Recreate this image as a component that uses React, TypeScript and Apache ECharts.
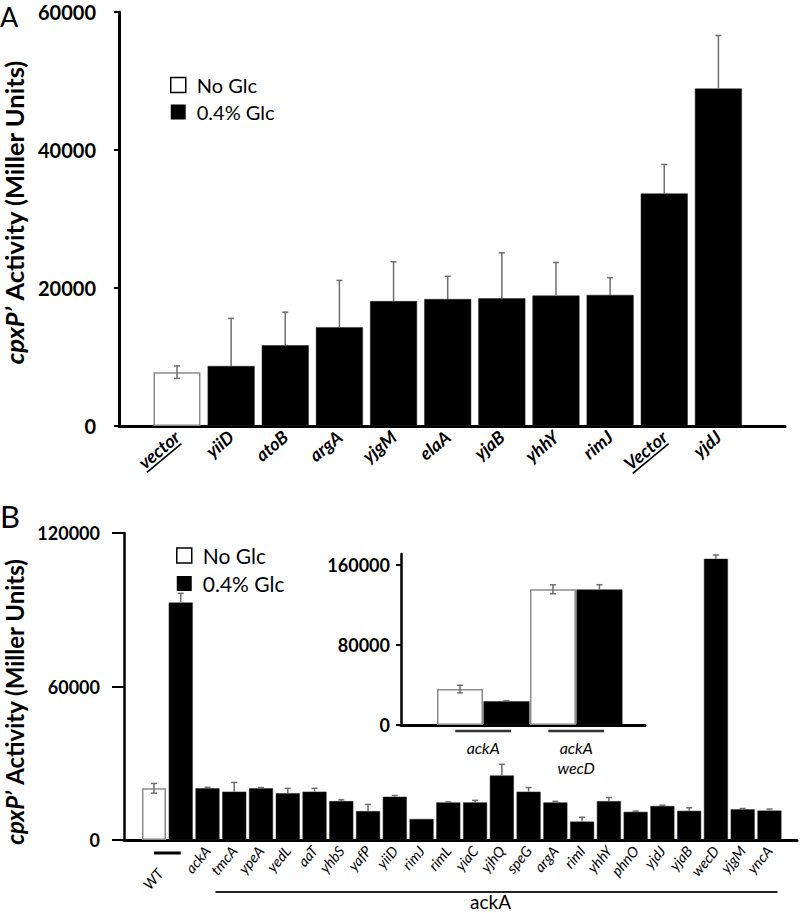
import React, { useEffect, useRef } from 'react';
import * as echarts from 'echarts';

// ---------- Panel A data ----------
const categoriesA = ['vector', 'yiiD', 'atoB', 'argA', 'yjgM', 'elaA', 'yjaB', 'yhhY', 'rimJ', 'Vector', 'yjdJ'];
const noGlcA: (number | null)[] = [7800, null, null, null, null, null, null, null, null, null, null];
const glcA: (number | null)[] = [null, 8700, 11700, 14300, 18100, 18400, 18500, 18900, 19000, 33700, 48900];
const errA = [900, 6900, 4800, 6800, 5700, 3300, 6600, 4800, 2500, 4200, 7700];
const underlinedA = ['vector', 'Vector'];

// ---------- Panel B data ----------
const categoriesB = ['WT', 'WT', 'ackA', 'tmcA', 'ypeA', 'yedL', 'aaT', 'yhbS', 'yafP', 'yiiD', 'rimJ', 'rimL', 'yiaC', 'yjhQ', 'speG', 'argA', 'rimI', 'yhhY', 'phnO', 'yjdJ', 'yjaB', 'wecD', 'yjgM', 'yncA'];
const noGlcB: (number | null)[] = [20200, null, null, null, null, null, null, null, null, null, null, null, null, null, null, null, null, null, null, null, null, null, null, null];
const glcB: (number | null)[] = [null, 92800, 20200, 18900, 20200, 18300, 18900, 15200, 11300, 16900, 8200, 14700, 14700, 25200, 18900, 14700, 7200, 15200, 11000, 13300, 11400, 109900, 12000, 11500];
const errB = [1900, 3600, 400, 3600, 300, 1900, 1300, 500, 2600, 500, 0, 200, 800, 4400, 1600, 400, 1700, 1400, 300, 300, 1200, 1500, 300, 600];
const bracketLabelB = 'ackA';

// ---------- Inset data ----------
const insetGroups = ['ackA', 'ackA\nwecD'];
const insetNoGlc = [36000, 135700];
const insetNoGlcErr = [3800, 4500];
const insetGlc = [23700, 135500];
const insetGlcErr = [600, 4800];

const legendNames = ['No Glc', '0.4% Glc'];
const yTitle = '{i|cpxP\u2019} Activity (Miller Units)';

const FONT = 'Lato, "Open Sans", sans-serif';

function pairs(vals: (number | null)[]) {
  const out: number[][] = [];
  vals.forEach((v, i) => { if (v != null) out.push([i, v]); });
  return out;
}

function errRender(params: any, api: any) {
  const x = api.value(0);
  const m = api.value(1);
  const e = api.value(2);
  const full = api.value(3);
  if (!e) return null;
  const top = api.coord([x, m + e]);
  const bot = api.coord([x, full ? m - e : m]);
  const cap = 3;
  const st = { stroke: '#6e6e6e', lineWidth: 1.5 };
  const children: any[] = [
    { type: 'line', shape: { x1: top[0], y1: top[1], x2: bot[0], y2: bot[1] }, style: st },
    { type: 'line', shape: { x1: top[0] - cap, y1: top[1], x2: top[0] + cap, y2: top[1] }, style: st },
  ];
  if (full) children.push({ type: 'line', shape: { x1: bot[0] - cap, y1: bot[1], x2: bot[0] + cap, y2: bot[1] }, style: st });
  return { type: 'group', children };
}

const plain = (v: number) => String(v);

export default function App() {
  const ref = useRef<HTMLDivElement>(null);
  useEffect(() => {
    if (!ref.current) return;
    const chart = echarts.init(ref.current, undefined, { renderer: 'svg' });

    const whiteStyle = { color: '#fff', borderColor: '#8a8a8a', borderWidth: 1.5 };
    const blackStyle = { color: '#000', borderColor: '#222', borderWidth: 0.5 };

    const yAxisBase = (extra: any) => ({
      type: 'value',
      splitLine: { show: false },
      axisLine: { show: true, onZero: false, lineStyle: { color: '#000', width: 3 } },
      axisTick: { show: true, lineStyle: { color: '#000', width: 2 } },
      ...extra,
    });

    const option: any = {
      animation: false,
      backgroundColor: '#fff',
      grid: [
        { left: 119, top: 12, width: 666, height: 414, outerBoundsMode: 'none', containLabel: false },
        { left: 124, top: 533, width: 673, height: 307, outerBoundsMode: 'none', containLabel: false },
        { left: 401, top: 554, width: 244, height: 171, outerBoundsMode: 'none', containLabel: false },
      ],
      xAxis: [
        {
          gridIndex: 0, type: 'value', min: -1.071, max: 11.23,
          splitLine: { show: false },
          axisLine: { onZero: false, lineStyle: { color: '#000', width: 3 } },
          axisTick: { show: false },
          axisLabel: {
            customValues: categoriesA.map((_, i) => i),
            formatter: (v: number) => categoriesA[Math.round(v)] ?? '',
            rotate: 40, fontFamily: FONT, fontStyle: 'italic', fontWeight: 'bold', fontSize: 18, color: '#000', margin: 8,
          },
        },
        {
          gridIndex: 1, type: 'value', min: -1.12, max: 24.03,
          splitLine: { show: false },
          axisLine: { onZero: false, lineStyle: { color: '#000', width: 3 } },
          axisTick: { show: false },
          axisLabel: {
            customValues: [0.5].concat(categoriesB.map((_, i) => i).slice(2)),
            formatter: (v: number) => (v === 0.5 ? '{wt|' + categoriesB[0] + '}' : categoriesB[Math.round(v)] ?? ''),
            rotate: 50, fontFamily: FONT, fontStyle: 'italic', fontSize: 14.5, color: '#000', margin: 8,
            rich: { wt: { fontFamily: FONT, fontStyle: 'italic', fontSize: 14.5, color: '#000', padding: [18, 22, 0, 0] } },
          },
        },
        {
          gridIndex: 2, type: 'value', min: -1.269, max: 3.98,
          splitLine: { show: false },
          axisLine: { onZero: false, lineStyle: { color: '#000', width: 3 } },
          axisTick: { show: false },
          axisLabel: {
            customValues: insetGroups.map((_, i) => i * 2 + 0.5),
            formatter: (v: number) => insetGroups[Math.round((v - 0.5) / 2)] ?? '',
            fontFamily: FONT, fontStyle: 'italic', fontSize: 16, color: '#000', margin: 12, lineHeight: 20,
          },
        },
      ],
      yAxis: [
        yAxisBase({
          gridIndex: 0, min: 0, max: 60000, interval: 20000,
          axisTick: { show: true, length: 5, lineStyle: { color: '#000', width: 2 } },
          axisLabel: { fontFamily: FONT, fontWeight: 'bold', fontSize: 20, color: '#000', margin: 23, formatter: plain },
          name: yTitle, nameLocation: 'middle', nameGap: 87,
          nameTextStyle: {
            fontFamily: FONT, fontWeight: 'bold', fontSize: 25.5, color: '#000', padding: [0, 0, 0, 14],
            rich: { i: { fontFamily: FONT, fontWeight: 'bold', fontStyle: 'italic', fontSize: 25.5, color: '#000' } },
          },
        }),
        yAxisBase({
          gridIndex: 1, min: 0, max: 120000, interval: 60000,
          axisLine: { show: true, onZero: false, lineStyle: { color: '#000', width: 2.5 } },
          axisTick: { show: true, length: 12, lineStyle: { color: '#000', width: 2 } },
          axisLabel: { fontFamily: FONT, fontWeight: 'bold', fontSize: 18, color: '#000', margin: 24, formatter: plain },
          name: yTitle, nameLocation: 'middle', nameGap: 96,
          nameTextStyle: {
            fontFamily: FONT, fontWeight: 'bold', fontSize: 24, color: '#000', padding: [0, 30, 0, 0],
            rich: { i: { fontFamily: FONT, fontWeight: 'bold', fontStyle: 'italic', fontSize: 24, color: '#000' } },
          },
        }),
        yAxisBase({
          gridIndex: 2, min: 0, max: 171000, interval: 80000,
          axisLine: { show: true, onZero: false, lineStyle: { color: '#000', width: 2.5 } },
          axisTick: { show: true, length: 5, lineStyle: { color: '#000', width: 2 } },
          axisLabel: { fontFamily: FONT, fontWeight: 'bold', fontSize: 18, color: '#000', margin: 11, formatter: plain },
        }),
      ],
      legend: [
        {
          left: 165, top: 70, orient: 'vertical', itemWidth: 15, itemHeight: 15, itemGap: 7,
          selectedMode: false, icon: 'rect',
          textStyle: { fontFamily: FONT, fontSize: 20, color: '#000', padding: [0, 0, 0, 6] },
          data: [
            { name: legendNames[0], itemStyle: { color: '#fff', borderColor: '#000', borderWidth: 1.5 } },
            { name: legendNames[1], itemStyle: { color: '#000', borderColor: '#000', borderWidth: 0 } },
          ],
        },
        {
          left: 171, top: 540, orient: 'vertical', itemWidth: 15, itemHeight: 15, itemGap: 7,
          selectedMode: false, icon: 'rect',
          textStyle: { fontFamily: FONT, fontSize: 21, color: '#000', padding: [0, 0, 0, 6] },
          data: [
            { name: legendNames[0], itemStyle: { color: '#fff', borderColor: '#000', borderWidth: 1.5 } },
            { name: legendNames[1], itemStyle: { color: '#000', borderColor: '#000', borderWidth: 0 } },
          ],
        },
      ],
      series: [
        // Panel A
        { name: legendNames[0], type: 'bar', xAxisIndex: 0, yAxisIndex: 0, barWidth: 47, barGap: '-100%', data: pairs(noGlcA), itemStyle: whiteStyle },
        { name: legendNames[1], type: 'bar', xAxisIndex: 0, yAxisIndex: 0, barWidth: 47, barGap: '-100%', data: pairs(glcA), itemStyle: blackStyle },
        {
          type: 'custom', xAxisIndex: 0, yAxisIndex: 0, z: 10, renderItem: errRender,
          data: categoriesA.map((_, i) => [i, (noGlcA[i] ?? glcA[i]) as number, errA[i], noGlcA[i] != null ? 1 : 0]),
        },
        // Panel B
        { name: legendNames[0], type: 'bar', xAxisIndex: 1, yAxisIndex: 1, barWidth: 24, barGap: '-100%', data: pairs(noGlcB), itemStyle: whiteStyle },
        { name: legendNames[1], type: 'bar', xAxisIndex: 1, yAxisIndex: 1, barWidth: 24, barGap: '-100%', data: pairs(glcB), itemStyle: blackStyle },
        {
          type: 'custom', xAxisIndex: 1, yAxisIndex: 1, z: 10, renderItem: errRender,
          data: categoriesB.map((_, i) => [i, (noGlcB[i] ?? glcB[i]) as number, errB[i], noGlcB[i] != null ? 1 : 0]),
        },
        // Inset
        { name: legendNames[0], type: 'bar', xAxisIndex: 2, yAxisIndex: 2, barWidth: 46, barGap: '-100%', data: insetNoGlc.map((v, i) => [i * 2, v]), itemStyle: whiteStyle },
        { name: legendNames[1], type: 'bar', xAxisIndex: 2, yAxisIndex: 2, barWidth: 46, barGap: '-100%', data: insetGlc.map((v, i) => [i * 2 + 1, v]), itemStyle: blackStyle },
        {
          type: 'custom', xAxisIndex: 2, yAxisIndex: 2, z: 10, renderItem: errRender,
          data: insetGroups.flatMap((_, i) => [
            [i * 2, insetNoGlc[i], insetNoGlcErr[i], 1],
            [i * 2 + 1, insetGlc[i], insetGlcErr[i], 0],
          ]),
        },
      ],
    };
    chart.setOption(option);

    // decorations computed from the axes
    const px = (g: number, x: number, y: number) => chart.convertToPixel({ gridIndex: g }, [x, y]) as number[];
    const canvas = document.createElement('canvas');
    const ctx = canvas.getContext('2d')!;
    const graphics: any[] = [
      { type: 'text', left: 0, top: 3, style: { text: 'A', fontFamily: FONT, fontSize: 27, fill: '#000' } },
      { type: 'text', left: 0, top: 500, style: { text: 'B', fontFamily: FONT, fontSize: 31, fill: '#000' } },
    ];
    // underline of vector labels in panel A
    const rot = (40 * Math.PI) / 180;
    const u = [Math.cos(rot), -Math.sin(rot)];
    const vv = [Math.sin(rot), Math.cos(rot)];
    ctx.font = 'italic bold 18px Lato';
    categoriesA.forEach((c, i) => {
      if (!underlinedA.includes(c)) return;
      const p = px(0, i, 0);
      const ax = p[0];
      const ay = p[1] + 8;
      const w = ctx.measureText(c).width;
      const d = 10;
      graphics.push({
        type: 'line',
        shape: { x1: ax - w * u[0] + d * vv[0], y1: ay - w * u[1] + d * vv[1], x2: ax + d * vv[0] - 2, y2: ay + d * vv[1] + 2 },
        style: { stroke: '#000', lineWidth: 1.6 },
      });
    });
    // WT underline
    const w0 = px(1, 0, 0);
    const w1 = px(1, 1, 0);
    graphics.push({ type: 'line', shape: { x1: w0[0], y1: w0[1] + 13, x2: w1[0], y2: w1[1] + 13 }, style: { stroke: '#000', lineWidth: 3 } });
    // ackA bracket line + label
    const b0 = px(1, 2.3, 0);
    const b1 = px(1, 23.3, 0);
    graphics.push({ type: 'line', shape: { x1: b0[0], y1: b0[1] + 52, x2: b1[0], y2: b1[1] + 52 }, style: { stroke: '#222', lineWidth: 2 } });
    graphics.push({
      type: 'text', x: (b0[0] + b1[0]) / 2 - 6, y: b0[1] + 61,
      style: { text: bracketLabelB, fontFamily: FONT, fontSize: 19, fill: '#000', align: 'center', verticalAlign: 'middle' },
    });
    // inset underlines
    insetGroups.forEach((_, i) => {
      const a = px(2, i * 2 - 0.1, 0);
      const b = px(2, i * 2 + 1.1, 0);
      graphics.push({ type: 'line', shape: { x1: a[0], y1: a[1] + 6, x2: b[0], y2: b[1] + 6 }, style: { stroke: '#333', lineWidth: 2.5 } });
    });
    chart.setOption({ graphic: graphics });

    return () => chart.dispose();
  }, []);
  return <div ref={ref} style={{ position: 'absolute', left: 0, top: 0, width: 800, height: 913 }} />;
}
